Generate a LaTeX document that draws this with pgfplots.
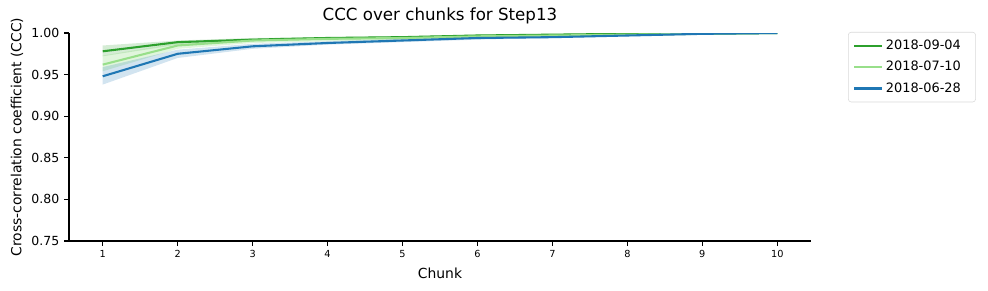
\documentclass[border=0pt]{standalone}
\usepackage{fontspec}
\setmainfont{DejaVu Sans}
\usepackage{pgfplots}
\pgfplotsset{compat=1.18}
\definecolor{cgreen}{HTML}{2CA02C}
\definecolor{clgreen}{HTML}{98DF8A}
\definecolor{cblue}{HTML}{1F77B4}
\begin{document}
\begin{tikzpicture}[x=0.72pt,y=0.72pt]
\path[use as bounding box] (-69,-49) rectangle (919,241);
\begin{axis}[
  at={(0,0)}, anchor=south west,
  scale only axis, width=534.24pt, height=149.76pt,
  xmin=0.55, xmax=10.45, ymin=0.75, ymax=1.0,
  axis x line*=bottom, axis y line*=left,
  axis line style={line width=0.8pt},
  xtick={1,2,3,4,5,6,7,8,9,10},
  ytick={0.75,0.8,0.85,0.9,0.95,1.0},
  tick align=outside, major tick length=3.5pt,
  tick style={line width=0.8pt,black},
  /pgf/number format/assume math mode=true,
  yticklabel style={/pgf/number format/fixed,/pgf/number format/fixed zerofill,/pgf/number format/precision=2,font=\fontsize{9}{11}\selectfont},
  xticklabel style={font=\fontsize{7}{8}\selectfont},
  xlabel={Chunk}, ylabel={Cross-correlation coefficient (CCC)},
  label style={font=\fontsize{10}{12}\selectfont},
  ylabel shift=-1pt,
  title={CCC over chunks for Step13},
  title style={font=\fontsize{12}{14}\selectfont, yshift=-3pt},
  legend style={at={(1.05,1.005)}, anchor=north west, draw=black!15, rounded corners=2pt, font=\fontsize{9.3}{11}\selectfont, row sep=3pt, inner sep=3.5pt},
  legend cell align=left,
  legend image code/.code={\draw[#1] (0pt,0pt) -- (20pt,0pt);},
]
% bands
\addplot[fill=cgreen, fill opacity=0.2, draw=none, forget plot] coordinates {
(1,0.985)(2,0.991)(3,0.994)(4,0.995)(5,0.996)(6,0.998)(7,0.999)(8,0.9995)(9,0.9998)(10,1.0)
(10,0.9995)(9,0.998)(8,0.997)(7,0.996)(6,0.995)(5,0.993)(4,0.992)(3,0.990)(2,0.986)(1,0.972)} -- cycle;
\addplot[fill=clgreen, fill opacity=0.3, draw=none, forget plot] coordinates {
(1,0.973)(2,0.988)(3,0.993)(4,0.995)(5,0.996)(6,0.998)(7,0.999)(8,0.9995)(9,0.9998)(10,1.0)
(10,0.9995)(9,0.998)(8,0.997)(7,0.995)(6,0.994)(5,0.992)(4,0.990)(3,0.988)(2,0.981)(1,0.954)} -- cycle;
\addplot[fill=cblue, fill opacity=0.2, draw=none, forget plot] coordinates {
(1,0.959)(2,0.980)(3,0.987)(4,0.990)(5,0.993)(6,0.995)(7,0.997)(8,0.998)(9,0.9995)(10,1.0)
(10,0.9995)(9,0.998)(8,0.996)(7,0.994)(6,0.992)(5,0.989)(4,0.986)(3,0.981)(2,0.970)(1,0.938)} -- cycle;
% lines
\addplot[cgreen, line width=1.5pt] coordinates {
(1,0.978)(2,0.989)(3,0.992)(4,0.994)(5,0.995)(6,0.997)(7,0.998)(8,0.999)(9,0.999)(10,1.0)};
\addlegendentry{2018-09-04\rule{5pt}{0pt}}
\addplot[clgreen, line width=1.5pt] coordinates {
(1,0.962)(2,0.985)(3,0.991)(4,0.993)(5,0.994)(6,0.996)(7,0.997)(8,0.998)(9,0.999)(10,1.0)};
\addlegendentry{2018-07-10\rule{5pt}{0pt}}
\addplot[cblue, line width=1.5pt] coordinates {
(1,0.948)(2,0.975)(3,0.984)(4,0.988)(5,0.991)(6,0.994)(7,0.995)(8,0.997)(9,0.999)(10,1.0)};
\addlegendentry{2018-06-28\rule{5pt}{0pt}}
\end{axis}
\end{tikzpicture}
\end{document}
